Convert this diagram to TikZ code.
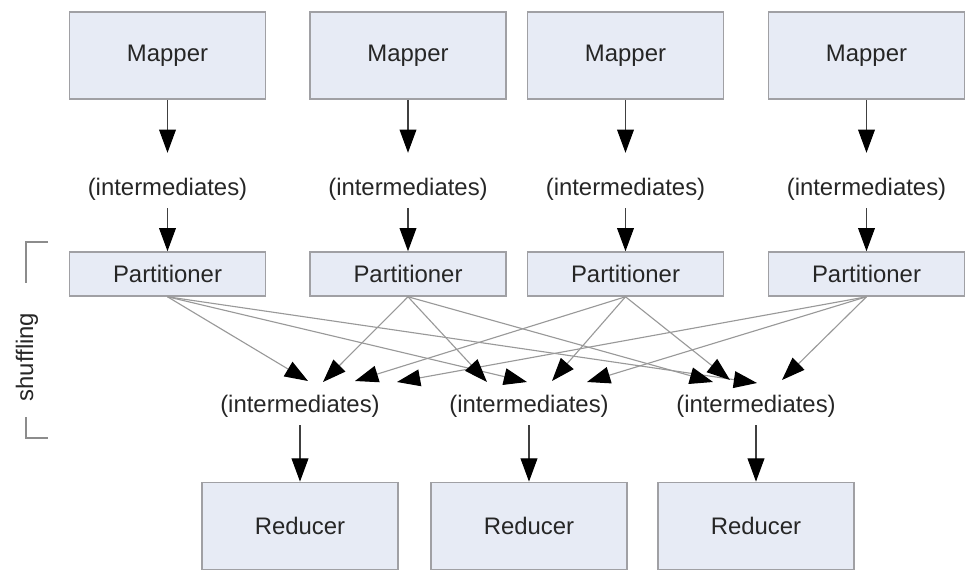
\documentclass[tikz,border=0pt]{standalone}
\usepackage{fontspec}
\setmainfont{Liberation Sans}
\usetikzlibrary{arrows.meta}
\definecolor{boxfill}{HTML}{E7EBF5}
\definecolor{boxline}{HTML}{A0A0A4}
\begin{document}
\begin{tikzpicture}[
x=0.025cm,y=-0.025cm,
font=\fontsize{17}{20}\selectfont,
every node/.style={text=black!85},
box/.style={draw=boxline,fill=boxfill,line width=1.1pt,minimum width=4.9cm,inner sep=0pt},
bigbox/.style={box,minimum height=2.18cm},
smallbox/.style={box,minimum height=1.1cm},
inter/.style={inner xsep=0pt,inner ysep=0.2cm},
tip/.style={-{Triangle[length=0.58cm,width=0.42cm,color=black]}},
down/.style={tip,draw=black!75,line width=0.8pt},
into/.style={down,shorten >=0.42cm},
shuf/.style={tip,draw=black!40,line width=0.8pt}
]
\useasboundingbox (0,0) rectangle (969,579);

\node[bigbox] (m1) at (167.5,55.5) {Mapper};
\node[bigbox] (m2) at (408,55.5) {Mapper};
\node[bigbox] (m3) at (625.5,55.5) {Mapper};
\node[bigbox] (m4) at (866.5,55.5) {Mapper};

\node[inter] (i1) at (167.5,189) {(intermediates)};
\node[inter] (i2) at (408,189) {(intermediates)};
\node[inter] (i3) at (625.5,189) {(intermediates)};
\node[inter] (i4) at (866.5,189) {(intermediates)};

\node[smallbox] (p1) at (167.5,274) {Partitioner};
\node[smallbox] (p2) at (408,274) {Partitioner};
\node[smallbox] (p3) at (625.5,274) {Partitioner};
\node[smallbox] (p4) at (866.5,274) {Partitioner};

\node[inter] (ri1) at (300,406) {(intermediates)};
\node[inter] (ri2) at (529,406) {(intermediates)};
\node[inter] (ri3) at (756,406) {(intermediates)};

\node[bigbox] (r1) at (300,526) {Reducer};
\node[bigbox] (r2) at (529,526) {Reducer};
\node[bigbox] (r3) at (756,526) {Reducer};

\foreach \n in {1,...,4}{
	\draw[into] (m\n) -- (i\n);
	\draw[down] (i\n) -- (p\n);
}
\foreach \n in {1,2,3}
	\draw[down] (ri\n) -- (r\n);

\coordinate (a1) at (308,381);
\coordinate (a2) at (323,382);
\coordinate (a3) at (355,381);
\coordinate (a4) at (397,382);
\coordinate (b2) at (487,382);
\coordinate (b1) at (527,382);
\coordinate (b3) at (552,381);
\coordinate (b4) at (587,382);
\coordinate (c2) at (713,382);
\coordinate (c3) at (730,380);
\coordinate (c1) at (757,383);
\coordinate (c4) at (782,380);
\foreach \s/\t in {p1/a1,p2/a2,p3/a3,p4/a4,p1/b1,p2/b2,p3/b3,p4/b4,p1/c1,p2/c2,p3/c3,p4/c4}
	\draw[shuf] (\s.south) -- (\t);

\draw[black!45,line width=1pt] (48,242) -- (26,242) -- (26,283);
\draw[black!45,line width=1pt] (26,417) -- (26,438) -- (48,438);
\node[rotate=90] (shuffling) at (27,357) {shuffling};
\end{tikzpicture}
\end{document}
